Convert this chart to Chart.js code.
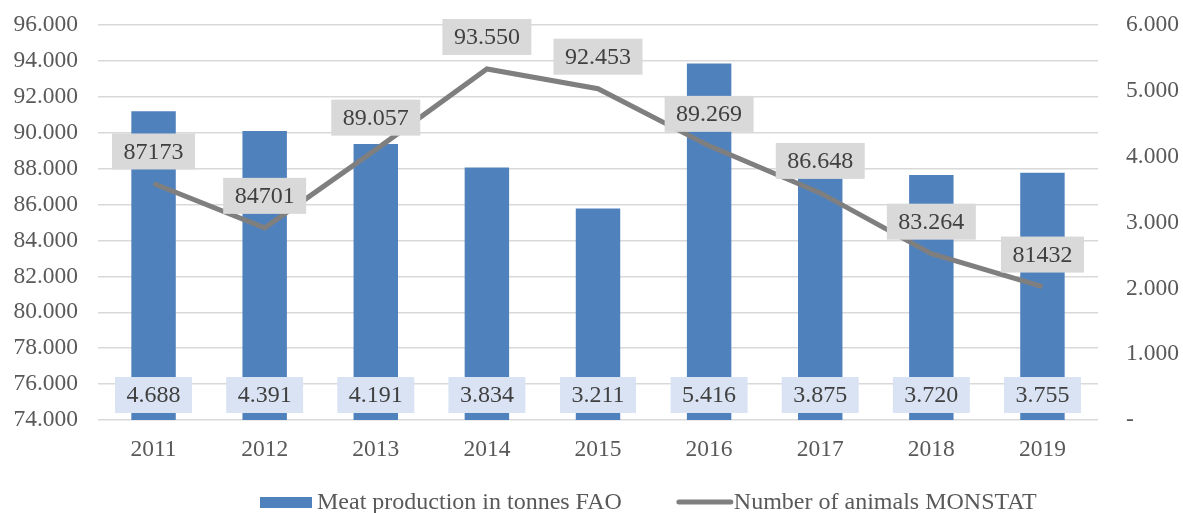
<!DOCTYPE html>
<html>
<head>
<meta charset="utf-8">
<script src="https://cdn.jsdelivr.net/npm/chart.js@4.4.1/dist/chart.umd.min.js"></script>
<style>
    html, body { margin: 0; padding: 0; background: #fff; }
    #wrap { width: 1183px; height: 513px; position: relative; }
</style>
</head>
<body>
<div id="wrap"><canvas id="chart"></canvas></div>
<script>
const years = ['2011', '2012', '2013', '2014', '2015', '2016', '2017', '2018', '2019'];
const meatProduction = [4688, 4391, 4191, 3834, 3211, 5416, 3875, 3720, 3755];
const animalsCount = [87173, 84701, 89057, 93550, 92453, 89269, 86648, 83264, 81432];
const animalsLabels = ['87173', '84701', '89.057', '93.550', '92.453', '89.269', '86.648', '83.264', '81432'];

const textColor = '#595959';
const fontFamily = "'Liberation Serif', 'Times New Roman', serif";
const barColor = '#4f81bd';
const lineColor = '#7f7f7f';

function dotThousands(v) {
    return String(Math.round(v)).replace(/\B(?=(\d{3})+(?!\d))/g, '.');
}

function noPadding(scale) {
    scale.paddingTop = 0;
    scale.paddingBottom = 0;
    scale.paddingLeft = 0;
    scale.paddingRight = 0;
}

// boxed value labels, excel style
const boxLabels = {
    id: 'boxLabels',
    afterDatasetsDraw(chart) {
        const ctx = chart.ctx;
        ctx.save();
        ctx.font = '24px ' + fontFamily;
        ctx.textAlign = 'center';
        ctx.textBaseline = 'middle';

        const drawBox = (text, x, y, bg) => {
            const w = ctx.measureText(text).width + 23;
            const h = 36;
            ctx.fillStyle = bg;
            ctx.fillRect(x - w / 2, y - h / 2, w, h);
            ctx.fillStyle = '#404040';
            ctx.fillText(text, x, y + 1);
        };

        const bottom = chart.chartArea.bottom;
        chart.getDatasetMeta(0).data.forEach((bar, i) => {
            drawBox(dotThousands(meatProduction[i]), bar.x, bottom - 25, '#dae3f3');
        });
        chart.getDatasetMeta(1).data.forEach((pt, i) => {
            drawBox(animalsLabels[i], pt.x, pt.y - 32, '#d9d9d9');
        });
        ctx.restore();
    }
};

// legend drawn by hand so spacing matches the original
const bottomLegend = {
    id: 'bottomLegend',
    afterDraw(chart) {
        const ctx = chart.ctx;
        const ds = chart.data.datasets;
        const y = 502;
        ctx.save();
        ctx.font = '24px ' + fontFamily;
        ctx.textBaseline = 'middle';

        let x = 260;
        ctx.fillStyle = barColor;
        ctx.fillRect(x, y - 5, 52, 11);
        x += 57;
        ctx.fillStyle = textColor;
        ctx.fillText(ds[0].label, x, y + 1);
        x += ctx.measureText(ds[0].label).width + 55;

        ctx.strokeStyle = lineColor;
        ctx.lineWidth = 5;
        ctx.lineCap = 'round';
        ctx.beginPath();
        ctx.moveTo(x + 2, y);
        ctx.lineTo(x + 54, y);
        ctx.stroke();
        x += 57;
        ctx.fillText(ds[1].label, x, y + 1);
        ctx.restore();
    }
};

new Chart(document.getElementById('chart'), {
    type: 'bar',
    data: {
        labels: years,
        datasets: [
            {
                label: 'Meat production in tonnes FAO',
                data: meatProduction,
                backgroundColor: barColor,
                borderWidth: 0,
                yAxisID: 'yRight',
                barPercentage: 0.4,
                categoryPercentage: 1,
                order: 1
            },
            {
                type: 'line',
                label: 'Number of animals MONSTAT',
                data: animalsCount,
                borderColor: lineColor,
                borderWidth: 5,
                pointRadius: 0,
                tension: 0,
                yAxisID: 'yLeft',
                order: 0
            }
        ]
    },
    options: {
        responsive: true,
        maintainAspectRatio: false,
        animation: false,
        layout: { padding: { top: 25, left: 0, right: 0, bottom: 0 } },
        plugins: {
            tooltip: { enabled: false },
            legend: { display: false }
        },
        scales: {
            x: {
                grid: { display: false },
                border: { display: false },
                ticks: {
                    color: textColor,
                    font: { family: fontFamily, size: 23.5 },
                    padding: 8
                },
                afterFit(scale) { scale.height = 93; noPadding(scale); }
            },
            yLeft: {
                position: 'left',
                min: 74000,
                max: 96000,
                ticks: {
                    stepSize: 2000,
                    color: textColor,
                    font: { family: fontFamily, size: 23.5 },
                    padding: 20,
                    callback: v => dotThousands(v)
                },
                grid: { color: '#d9d9d9', lineWidth: 1.5, drawTicks: false },
                border: { display: false },
                afterFit(scale) { scale.width = 98; noPadding(scale); }
            },
            yRight: {
                position: 'right',
                min: 0,
                max: 6000,
                ticks: {
                    stepSize: 1000,
                    color: textColor,
                    font: { family: fontFamily, size: 23.5 },
                    padding: 28,
                    callback: v => v === 0 ? '-' : dotThousands(v)
                },
                grid: { display: false, drawTicks: false },
                border: { display: false },
                afterFit(scale) { scale.width = 85; noPadding(scale); }
            }
        }
    },
    plugins: [boxLabels, bottomLegend]
});
</script>
</body>
</html>
